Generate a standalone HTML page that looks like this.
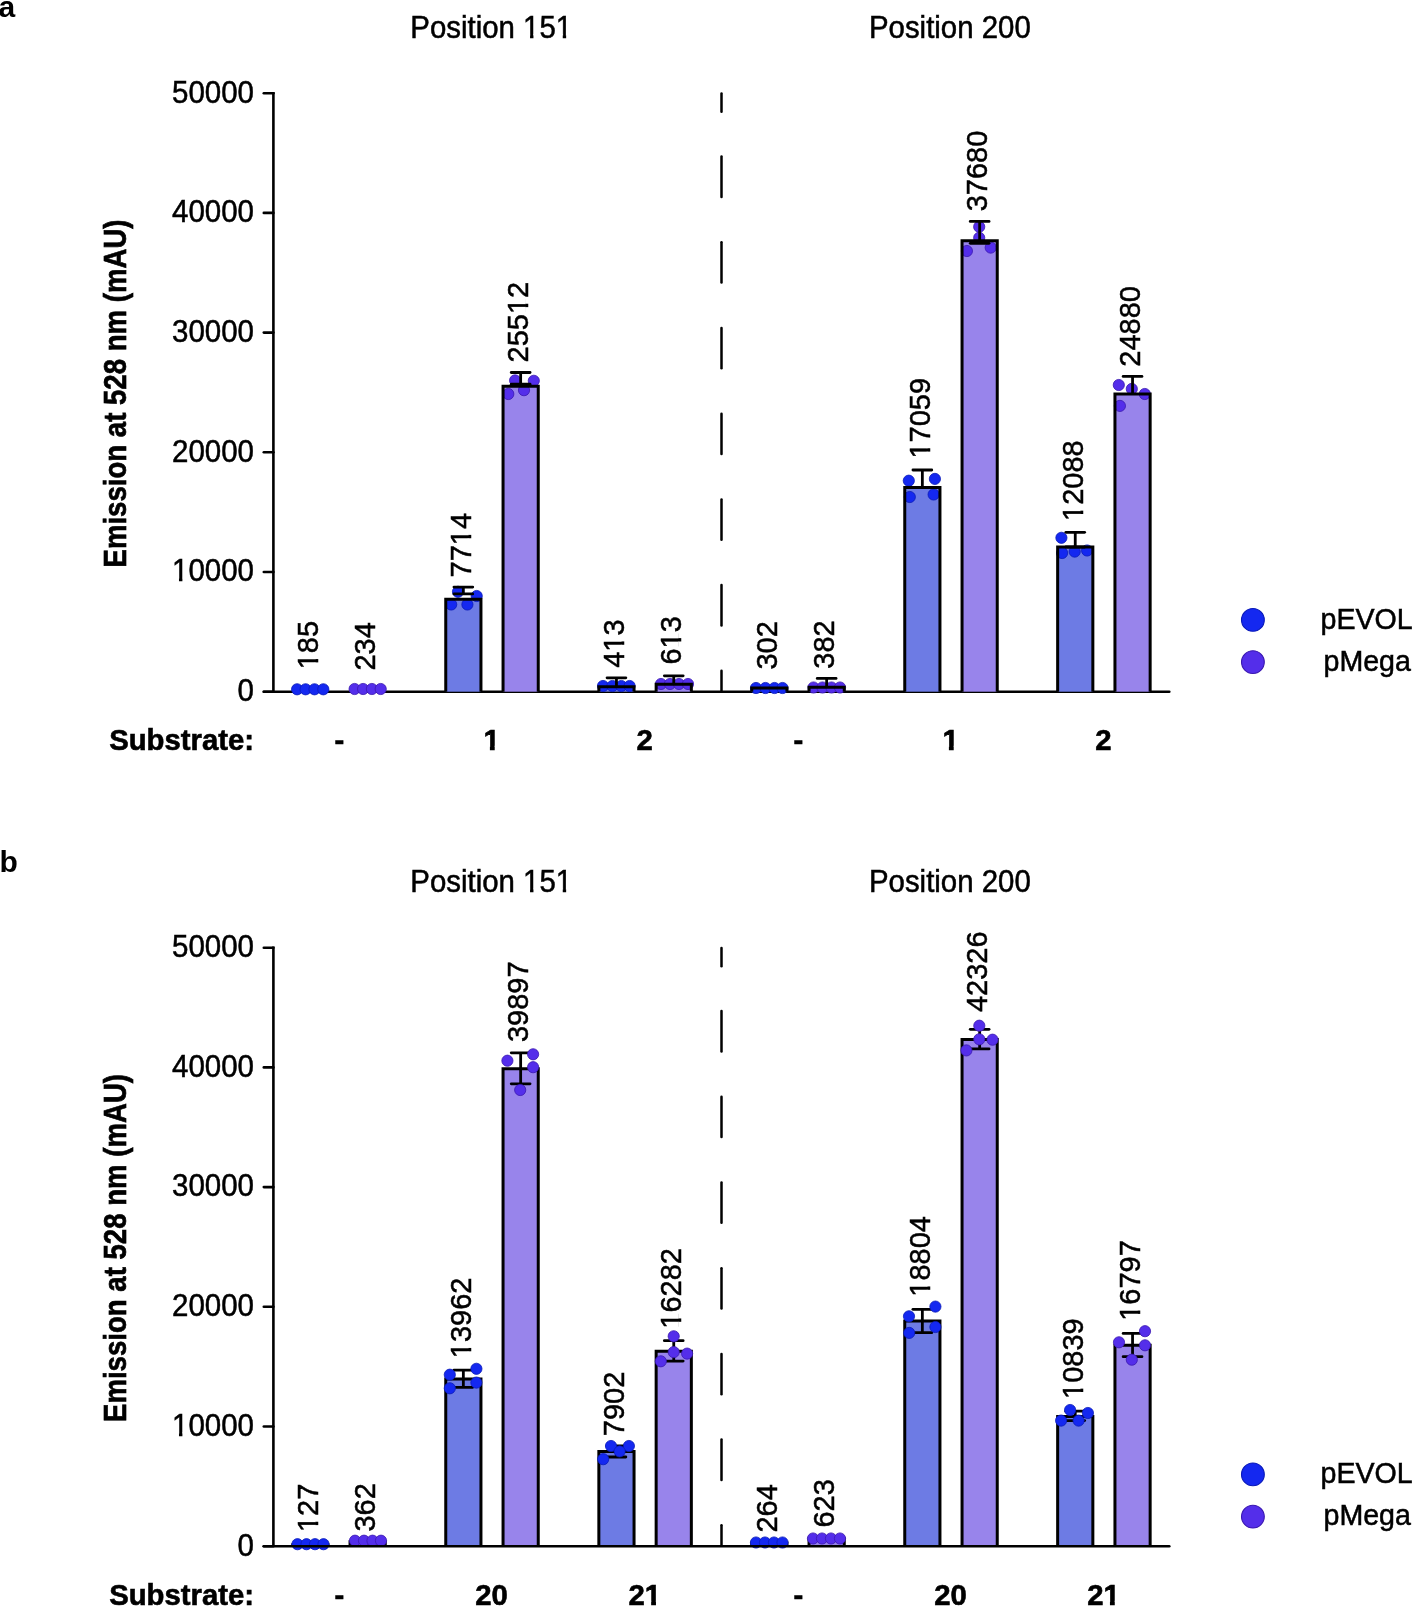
<!DOCTYPE html><html><head><meta charset="utf-8"><style>html,body{margin:0;padding:0;background:#fff;overflow:hidden;}svg{display:block;will-change:transform;}text{font-family:"Liberation Sans", sans-serif;}</style></head><body>
<svg width="1412" height="1606" viewBox="0 0 1412 1606">
<rect width="1412" height="1606" fill="#fff"/>
<text x="-1.5" y="17.3" font-size="30" font-weight="bold">a</text>
<text x="-0.5" y="871.5" font-size="30" font-weight="bold">b</text>
<g transform="translate(491.20,37.50) scale(1.0,1.04)"><text font-size="29.4" text-anchor="middle" stroke="#000" stroke-width="0.5">Position 151</text><rect x="32.43" y="-3.23" width="6.42" height="4.81" fill="#fff"/><rect x="42.25" y="-3.23" width="5.96" height="4.81" fill="#fff"/><rect x="65.13" y="-3.23" width="6.42" height="4.81" fill="#fff"/><rect x="74.95" y="-3.23" width="8.27" height="4.81" fill="#fff"/></g>
<g transform="translate(949.85,37.50) scale(1.0,1.04)"><text font-size="29.4" text-anchor="middle" stroke="#000" stroke-width="0.5">Position 200</text></g>
<g transform="translate(125.70,393.50) rotate(-90) scale(1.0,1.15)"><text font-size="27.6" text-anchor="middle" font-weight="bold" stroke="#000" stroke-width="0.6">Emission at 528 nm (mAU)</text></g>
<line x1="263.8" y1="691.70" x2="273.4" y2="691.70" stroke="#000" stroke-width="2.6" stroke-linecap="round"/>
<g transform="translate(254.00,701.00) scale(1.0,1.04)"><text font-size="29.5" text-anchor="end" stroke="#000" stroke-width="0.5">0</text></g>
<line x1="263.8" y1="572.00" x2="273.4" y2="572.00" stroke="#000" stroke-width="2.6" stroke-linecap="round"/>
<g transform="translate(254.00,581.30) scale(1.0,1.04)"><text font-size="29.5" text-anchor="end" stroke="#000" stroke-width="0.5">10000</text><rect x="-81.46" y="-3.24" width="6.44" height="4.83" fill="#fff"/><rect x="-71.60" y="-3.24" width="5.98" height="4.83" fill="#fff"/></g>
<line x1="263.8" y1="452.30" x2="273.4" y2="452.30" stroke="#000" stroke-width="2.6" stroke-linecap="round"/>
<g transform="translate(254.00,461.60) scale(1.0,1.04)"><text font-size="29.5" text-anchor="end" stroke="#000" stroke-width="0.5">20000</text></g>
<line x1="263.8" y1="332.60" x2="273.4" y2="332.60" stroke="#000" stroke-width="2.6" stroke-linecap="round"/>
<g transform="translate(254.00,341.90) scale(1.0,1.04)"><text font-size="29.5" text-anchor="end" stroke="#000" stroke-width="0.5">30000</text></g>
<line x1="263.8" y1="212.90" x2="273.4" y2="212.90" stroke="#000" stroke-width="2.6" stroke-linecap="round"/>
<g transform="translate(254.00,222.20) scale(1.0,1.04)"><text font-size="29.5" text-anchor="end" stroke="#000" stroke-width="0.5">40000</text></g>
<line x1="263.8" y1="93.20" x2="273.4" y2="93.20" stroke="#000" stroke-width="2.6" stroke-linecap="round"/>
<g transform="translate(254.00,102.50) scale(1.0,1.04)"><text font-size="29.5" text-anchor="end" stroke="#000" stroke-width="0.5">50000</text></g>
<line x1="273.4" y1="91.90" x2="273.4" y2="691.70" stroke="#000" stroke-width="2.6"/><line x1="263.8" y1="691.70" x2="1169.3" y2="691.70" stroke="#000" stroke-width="2.6" stroke-linecap="round"/>
<line x1="721.5" y1="93.50" x2="721.5" y2="111.70" stroke="#000" stroke-width="2.5" stroke-linecap="round"/>
<line x1="721.5" y1="156.60" x2="721.5" y2="196.90" stroke="#000" stroke-width="2.5" stroke-linecap="round"/>
<line x1="721.5" y1="242.30" x2="721.5" y2="282.60" stroke="#000" stroke-width="2.5" stroke-linecap="round"/>
<line x1="721.5" y1="328.00" x2="721.5" y2="368.30" stroke="#000" stroke-width="2.5" stroke-linecap="round"/>
<line x1="721.5" y1="413.70" x2="721.5" y2="454.00" stroke="#000" stroke-width="2.5" stroke-linecap="round"/>
<line x1="721.5" y1="499.40" x2="721.5" y2="539.70" stroke="#000" stroke-width="2.5" stroke-linecap="round"/>
<line x1="721.5" y1="585.10" x2="721.5" y2="625.40" stroke="#000" stroke-width="2.5" stroke-linecap="round"/>
<line x1="721.5" y1="670.80" x2="721.5" y2="690.60" stroke="#000" stroke-width="2.5" stroke-linecap="round"/>
<rect x="292.75" y="689.49" width="35.20" height="2.21" fill="#6d7be4"/><circle cx="297.10" cy="689.30" r="5.6" fill="#1428f0" stroke="#0a1ab8" stroke-width="0.8"/><circle cx="305.60" cy="689.30" r="5.6" fill="#1428f0" stroke="#0a1ab8" stroke-width="0.8"/><circle cx="314.50" cy="689.30" r="5.6" fill="#1428f0" stroke="#0a1ab8" stroke-width="0.8"/><circle cx="323.30" cy="689.30" r="5.6" fill="#1428f0" stroke="#0a1ab8" stroke-width="0.8"/>
<g transform="translate(318.05,669.30) rotate(-90) scale(1.0,1.03)"><text font-size="29.0" stroke="#000" stroke-width="0.5">185</text><rect x="0.57" y="-3.19" width="6.33" height="4.74" fill="#fff"/><rect x="10.25" y="-3.19" width="5.88" height="4.74" fill="#fff"/></g>
<rect x="350.05" y="688.90" width="35.20" height="2.80" fill="#9884eb"/><circle cx="354.60" cy="689.00" r="5.6" fill="#542eea" stroke="#3a18b0" stroke-width="0.8"/><circle cx="363.10" cy="689.00" r="5.6" fill="#542eea" stroke="#3a18b0" stroke-width="0.8"/><circle cx="371.90" cy="689.00" r="5.6" fill="#542eea" stroke="#3a18b0" stroke-width="0.8"/><circle cx="380.70" cy="689.00" r="5.6" fill="#542eea" stroke="#3a18b0" stroke-width="0.8"/>
<g transform="translate(375.35,670.50) rotate(-90) scale(1.0,1.03)"><text font-size="29.0" stroke="#000" stroke-width="0.5">234</text></g>
<rect x="445.75" y="599.36" width="35.20" height="92.34" fill="#6d7be4"/><circle cx="458.00" cy="591.80" r="5.6" fill="#1428f0" stroke="#0a1ab8" stroke-width="0.8"/><circle cx="476.70" cy="596.00" r="5.6" fill="#1428f0" stroke="#0a1ab8" stroke-width="0.8"/><circle cx="451.20" cy="604.50" r="5.6" fill="#1428f0" stroke="#0a1ab8" stroke-width="0.8"/><circle cx="467.40" cy="604.50" r="5.6" fill="#1428f0" stroke="#0a1ab8" stroke-width="0.8"/><path d="M445.75,691.70V599.36H480.95V691.70" fill="none" stroke="#000" stroke-width="3.0"/><line x1="463.35" y1="587.10" x2="463.35" y2="593.90" stroke="#000" stroke-width="2.8"/><line x1="453.95" y1="587.10" x2="472.75" y2="587.10" stroke="#000" stroke-width="2.8" stroke-linecap="round"/><line x1="453.95" y1="593.90" x2="472.75" y2="593.90" stroke="#000" stroke-width="2.8" stroke-linecap="round"/>
<g transform="translate(471.05,577.40) rotate(-90) scale(1.0,1.03)"><text font-size="29.0" stroke="#000" stroke-width="0.5">7714</text><rect x="32.82" y="-3.19" width="6.33" height="4.74" fill="#fff"/><rect x="42.51" y="-3.19" width="5.88" height="4.74" fill="#fff"/></g>
<rect x="503.05" y="386.32" width="35.20" height="305.38" fill="#9884eb"/><circle cx="515.10" cy="380.40" r="5.6" fill="#542eea" stroke="#3a18b0" stroke-width="0.8"/><circle cx="533.80" cy="380.80" r="5.6" fill="#542eea" stroke="#3a18b0" stroke-width="0.8"/><circle cx="508.30" cy="394.00" r="5.6" fill="#542eea" stroke="#3a18b0" stroke-width="0.8"/><circle cx="524.00" cy="390.20" r="5.6" fill="#542eea" stroke="#3a18b0" stroke-width="0.8"/><path d="M503.05,691.70V386.32H538.25V691.70" fill="none" stroke="#000" stroke-width="3.0"/><line x1="520.65" y1="372.50" x2="520.65" y2="384.20" stroke="#000" stroke-width="2.8"/><line x1="511.25" y1="372.50" x2="530.05" y2="372.50" stroke="#000" stroke-width="2.8" stroke-linecap="round"/><line x1="511.25" y1="384.20" x2="530.05" y2="384.20" stroke="#000" stroke-width="2.8" stroke-linecap="round"/>
<g transform="translate(528.35,362.40) rotate(-90) scale(1.0,1.03)"><text font-size="29.0" stroke="#000" stroke-width="0.5">25512</text><rect x="48.95" y="-3.19" width="6.33" height="4.74" fill="#fff"/><rect x="58.64" y="-3.19" width="5.88" height="4.74" fill="#fff"/></g>
<rect x="598.85" y="686.76" width="35.20" height="4.94" fill="#6d7be4"/><circle cx="603.00" cy="686.00" r="5.6" fill="#1428f0" stroke="#0a1ab8" stroke-width="0.8"/><circle cx="612.40" cy="686.00" r="5.6" fill="#1428f0" stroke="#0a1ab8" stroke-width="0.8"/><circle cx="621.30" cy="686.00" r="5.6" fill="#1428f0" stroke="#0a1ab8" stroke-width="0.8"/><circle cx="629.60" cy="686.00" r="5.6" fill="#1428f0" stroke="#0a1ab8" stroke-width="0.8"/><path d="M598.85,691.70V686.76H634.05V691.70" fill="none" stroke="#000" stroke-width="3.0"/><line x1="616.45" y1="677.80" x2="616.45" y2="686.76" stroke="#000" stroke-width="2.8"/><line x1="607.05" y1="677.80" x2="625.85" y2="677.80" stroke="#000" stroke-width="2.8" stroke-linecap="round"/>
<g transform="translate(624.15,667.80) rotate(-90) scale(1.0,1.03)"><text font-size="29.0" stroke="#000" stroke-width="0.5">413</text><rect x="16.69" y="-3.19" width="6.33" height="4.74" fill="#fff"/><rect x="26.38" y="-3.19" width="5.88" height="4.74" fill="#fff"/></g>
<rect x="656.15" y="684.36" width="35.20" height="7.34" fill="#9884eb"/><circle cx="661.00" cy="684.00" r="5.6" fill="#542eea" stroke="#3a18b0" stroke-width="0.8"/><circle cx="670.00" cy="684.00" r="5.6" fill="#542eea" stroke="#3a18b0" stroke-width="0.8"/><circle cx="679.00" cy="684.00" r="5.6" fill="#542eea" stroke="#3a18b0" stroke-width="0.8"/><circle cx="688.00" cy="684.00" r="5.6" fill="#542eea" stroke="#3a18b0" stroke-width="0.8"/><path d="M656.15,691.70V684.36H691.35V691.70" fill="none" stroke="#000" stroke-width="3.0"/><line x1="673.75" y1="675.80" x2="673.75" y2="684.36" stroke="#000" stroke-width="2.8"/><line x1="664.35" y1="675.80" x2="683.15" y2="675.80" stroke="#000" stroke-width="2.8" stroke-linecap="round"/>
<g transform="translate(681.45,664.50) rotate(-90) scale(1.0,1.03)"><text font-size="29.0" stroke="#000" stroke-width="0.5">613</text><rect x="16.69" y="-3.19" width="6.33" height="4.74" fill="#fff"/><rect x="26.38" y="-3.19" width="5.88" height="4.74" fill="#fff"/></g>
<rect x="751.75" y="688.09" width="35.20" height="3.61" fill="#6d7be4"/><circle cx="756.00" cy="688.00" r="5.6" fill="#1428f0" stroke="#0a1ab8" stroke-width="0.8"/><circle cx="765.50" cy="688.00" r="5.6" fill="#1428f0" stroke="#0a1ab8" stroke-width="0.8"/><circle cx="774.50" cy="688.00" r="5.6" fill="#1428f0" stroke="#0a1ab8" stroke-width="0.8"/><circle cx="782.50" cy="688.00" r="5.6" fill="#1428f0" stroke="#0a1ab8" stroke-width="0.8"/><path d="M751.75,691.70V688.09H786.95V691.70" fill="none" stroke="#000" stroke-width="3.0"/>
<g transform="translate(777.05,669.50) rotate(-90) scale(1.0,1.03)"><text font-size="29.0" stroke="#000" stroke-width="0.5">302</text></g>
<rect x="809.05" y="687.13" width="35.20" height="4.57" fill="#9884eb"/><circle cx="813.50" cy="687.50" r="5.6" fill="#542eea" stroke="#3a18b0" stroke-width="0.8"/><circle cx="822.50" cy="687.50" r="5.6" fill="#542eea" stroke="#3a18b0" stroke-width="0.8"/><circle cx="831.50" cy="687.50" r="5.6" fill="#542eea" stroke="#3a18b0" stroke-width="0.8"/><circle cx="840.00" cy="687.50" r="5.6" fill="#542eea" stroke="#3a18b0" stroke-width="0.8"/><path d="M809.05,691.70V687.13H844.25V691.70" fill="none" stroke="#000" stroke-width="3.0"/><line x1="826.65" y1="678.40" x2="826.65" y2="687.13" stroke="#000" stroke-width="2.8"/><line x1="817.25" y1="678.40" x2="836.05" y2="678.40" stroke="#000" stroke-width="2.8" stroke-linecap="round"/>
<g transform="translate(834.35,668.70) rotate(-90) scale(1.0,1.03)"><text font-size="29.0" stroke="#000" stroke-width="0.5">382</text></g>
<rect x="904.75" y="487.50" width="35.20" height="204.20" fill="#6d7be4"/><circle cx="908.80" cy="480.70" r="5.6" fill="#1428f0" stroke="#0a1ab8" stroke-width="0.8"/><circle cx="934.90" cy="478.90" r="5.6" fill="#1428f0" stroke="#0a1ab8" stroke-width="0.8"/><circle cx="909.80" cy="497.00" r="5.6" fill="#1428f0" stroke="#0a1ab8" stroke-width="0.8"/><circle cx="933.60" cy="494.50" r="5.6" fill="#1428f0" stroke="#0a1ab8" stroke-width="0.8"/><path d="M904.75,691.70V487.50H939.95V691.70" fill="none" stroke="#000" stroke-width="3.0"/><line x1="922.35" y1="470.00" x2="922.35" y2="487.50" stroke="#000" stroke-width="2.8"/><line x1="912.95" y1="470.00" x2="931.75" y2="470.00" stroke="#000" stroke-width="2.8" stroke-linecap="round"/>
<g transform="translate(930.05,458.50) rotate(-90) scale(1.0,1.03)"><text font-size="29.0" stroke="#000" stroke-width="0.5">17059</text><rect x="0.57" y="-3.19" width="6.33" height="4.74" fill="#fff"/><rect x="10.25" y="-3.19" width="5.88" height="4.74" fill="#fff"/></g>
<rect x="962.05" y="240.67" width="35.20" height="451.03" fill="#9884eb"/><circle cx="979.20" cy="226.80" r="5.6" fill="#542eea" stroke="#3a18b0" stroke-width="0.8"/><circle cx="979.20" cy="237.80" r="5.6" fill="#542eea" stroke="#3a18b0" stroke-width="0.8"/><circle cx="966.90" cy="251.00" r="5.6" fill="#542eea" stroke="#3a18b0" stroke-width="0.8"/><circle cx="990.70" cy="247.60" r="5.6" fill="#542eea" stroke="#3a18b0" stroke-width="0.8"/><path d="M962.05,691.70V240.67H997.25V691.70" fill="none" stroke="#000" stroke-width="3.0"/><line x1="979.65" y1="221.40" x2="979.65" y2="243.30" stroke="#000" stroke-width="2.8"/><line x1="970.25" y1="221.40" x2="989.05" y2="221.40" stroke="#000" stroke-width="2.8" stroke-linecap="round"/><line x1="970.25" y1="243.30" x2="989.05" y2="243.30" stroke="#000" stroke-width="2.8" stroke-linecap="round"/>
<g transform="translate(987.35,211.30) rotate(-90) scale(1.0,1.03)"><text font-size="29.0" stroke="#000" stroke-width="0.5">37680</text></g>
<rect x="1057.65" y="547.01" width="35.20" height="144.69" fill="#6d7be4"/><circle cx="1061.40" cy="537.80" r="5.6" fill="#1428f0" stroke="#0a1ab8" stroke-width="0.8"/><circle cx="1062.10" cy="553.00" r="5.6" fill="#1428f0" stroke="#0a1ab8" stroke-width="0.8"/><circle cx="1074.70" cy="551.60" r="5.6" fill="#1428f0" stroke="#0a1ab8" stroke-width="0.8"/><circle cx="1087.10" cy="550.50" r="5.6" fill="#1428f0" stroke="#0a1ab8" stroke-width="0.8"/><path d="M1057.65,691.70V547.01H1092.85V691.70" fill="none" stroke="#000" stroke-width="3.0"/><line x1="1075.25" y1="532.30" x2="1075.25" y2="547.00" stroke="#000" stroke-width="2.8"/><line x1="1065.85" y1="532.30" x2="1084.65" y2="532.30" stroke="#000" stroke-width="2.8" stroke-linecap="round"/><line x1="1065.85" y1="547.00" x2="1084.65" y2="547.00" stroke="#000" stroke-width="2.8" stroke-linecap="round"/>
<g transform="translate(1082.95,520.90) rotate(-90) scale(1.0,1.03)"><text font-size="29.0" stroke="#000" stroke-width="0.5">12088</text><rect x="0.57" y="-3.19" width="6.33" height="4.74" fill="#fff"/><rect x="10.25" y="-3.19" width="5.88" height="4.74" fill="#fff"/></g>
<rect x="1114.95" y="393.89" width="35.20" height="297.81" fill="#9884eb"/><circle cx="1118.80" cy="385.00" r="5.6" fill="#542eea" stroke="#3a18b0" stroke-width="0.8"/><circle cx="1131.80" cy="388.90" r="5.6" fill="#542eea" stroke="#3a18b0" stroke-width="0.8"/><circle cx="1144.80" cy="394.00" r="5.6" fill="#542eea" stroke="#3a18b0" stroke-width="0.8"/><circle cx="1119.90" cy="405.90" r="5.6" fill="#542eea" stroke="#3a18b0" stroke-width="0.8"/><path d="M1114.95,691.70V393.89H1150.15V691.70" fill="none" stroke="#000" stroke-width="3.0"/><line x1="1132.55" y1="376.40" x2="1132.55" y2="393.89" stroke="#000" stroke-width="2.8"/><line x1="1123.15" y1="376.40" x2="1141.95" y2="376.40" stroke="#000" stroke-width="2.8" stroke-linecap="round"/>
<g transform="translate(1140.25,366.70) rotate(-90) scale(1.0,1.03)"><text font-size="29.0" stroke="#000" stroke-width="0.5">24880</text></g>
<g transform="translate(254.00,750.00) scale(1.0,1.03)"><text font-size="29.3" text-anchor="end" font-weight="bold" stroke="#000" stroke-width="0.6">Substrate:</text></g>
<g transform="translate(339.30,750.00) scale(1.0,1.03)"><text font-size="29.3" text-anchor="middle" font-weight="bold" stroke="#000" stroke-width="0.6">-</text></g>
<g transform="translate(491.60,750.00) scale(1.0,1.03)"><text font-size="29.3" text-anchor="middle" font-weight="bold" stroke="#000" stroke-width="0.6">1</text><rect x="-7.72" y="-4.08" width="6.01" height="5.65" fill="#fff"/><rect x="3.11" y="-4.08" width="7.34" height="5.65" fill="#fff"/></g>
<g transform="translate(644.70,750.00) scale(1.0,1.03)"><text font-size="29.3" text-anchor="middle" font-weight="bold" stroke="#000" stroke-width="0.6">2</text></g>
<g transform="translate(798.30,750.00) scale(1.0,1.03)"><text font-size="29.3" text-anchor="middle" font-weight="bold" stroke="#000" stroke-width="0.6">-</text></g>
<g transform="translate(950.60,750.00) scale(1.0,1.03)"><text font-size="29.3" text-anchor="middle" font-weight="bold" stroke="#000" stroke-width="0.6">1</text><rect x="-7.72" y="-4.08" width="6.01" height="5.65" fill="#fff"/><rect x="3.11" y="-4.08" width="7.34" height="5.65" fill="#fff"/></g>
<g transform="translate(1103.50,750.00) scale(1.0,1.03)"><text font-size="29.3" text-anchor="middle" font-weight="bold" stroke="#000" stroke-width="0.6">2</text></g>
<circle cx="1252.9" cy="619.9" r="11.4" fill="#1428f0" stroke="#0a1ab8" stroke-width="1.1"/>
<circle cx="1252.9" cy="662.1" r="11.4" fill="#542eea" stroke="#3a18b0" stroke-width="1.1"/>
<g transform="translate(1366.60,628.60) scale(1.0,1.06)"><text font-size="28.6" text-anchor="middle" stroke="#000" stroke-width="0.5">pEVOL</text></g>
<g transform="translate(1367.20,670.50) scale(1.0,1.06)"><text font-size="28.6" text-anchor="middle" stroke="#000" stroke-width="0.5">pMega</text></g>
<g transform="translate(491.20,892.00) scale(1.0,1.04)"><text font-size="29.4" text-anchor="middle" stroke="#000" stroke-width="0.5">Position 151</text><rect x="32.43" y="-3.23" width="6.42" height="4.81" fill="#fff"/><rect x="42.25" y="-3.23" width="5.96" height="4.81" fill="#fff"/><rect x="65.13" y="-3.23" width="6.42" height="4.81" fill="#fff"/><rect x="74.95" y="-3.23" width="8.27" height="4.81" fill="#fff"/></g>
<g transform="translate(949.85,892.00) scale(1.0,1.04)"><text font-size="29.4" text-anchor="middle" stroke="#000" stroke-width="0.5">Position 200</text></g>
<g transform="translate(125.70,1248.00) rotate(-90) scale(1.0,1.15)"><text font-size="27.6" text-anchor="middle" font-weight="bold" stroke="#000" stroke-width="0.6">Emission at 528 nm (mAU)</text></g>
<line x1="263.8" y1="1546.20" x2="273.4" y2="1546.20" stroke="#000" stroke-width="2.6" stroke-linecap="round"/>
<g transform="translate(254.00,1555.50) scale(1.0,1.04)"><text font-size="29.5" text-anchor="end" stroke="#000" stroke-width="0.5">0</text></g>
<line x1="263.8" y1="1426.50" x2="273.4" y2="1426.50" stroke="#000" stroke-width="2.6" stroke-linecap="round"/>
<g transform="translate(254.00,1435.80) scale(1.0,1.04)"><text font-size="29.5" text-anchor="end" stroke="#000" stroke-width="0.5">10000</text><rect x="-81.46" y="-3.24" width="6.44" height="4.83" fill="#fff"/><rect x="-71.60" y="-3.24" width="5.98" height="4.83" fill="#fff"/></g>
<line x1="263.8" y1="1306.80" x2="273.4" y2="1306.80" stroke="#000" stroke-width="2.6" stroke-linecap="round"/>
<g transform="translate(254.00,1316.10) scale(1.0,1.04)"><text font-size="29.5" text-anchor="end" stroke="#000" stroke-width="0.5">20000</text></g>
<line x1="263.8" y1="1187.10" x2="273.4" y2="1187.10" stroke="#000" stroke-width="2.6" stroke-linecap="round"/>
<g transform="translate(254.00,1196.40) scale(1.0,1.04)"><text font-size="29.5" text-anchor="end" stroke="#000" stroke-width="0.5">30000</text></g>
<line x1="263.8" y1="1067.40" x2="273.4" y2="1067.40" stroke="#000" stroke-width="2.6" stroke-linecap="round"/>
<g transform="translate(254.00,1076.70) scale(1.0,1.04)"><text font-size="29.5" text-anchor="end" stroke="#000" stroke-width="0.5">40000</text></g>
<line x1="263.8" y1="947.70" x2="273.4" y2="947.70" stroke="#000" stroke-width="2.6" stroke-linecap="round"/>
<g transform="translate(254.00,957.00) scale(1.0,1.04)"><text font-size="29.5" text-anchor="end" stroke="#000" stroke-width="0.5">50000</text></g>
<line x1="721.5" y1="948.00" x2="721.5" y2="966.20" stroke="#000" stroke-width="2.5" stroke-linecap="round"/>
<line x1="721.5" y1="1011.10" x2="721.5" y2="1051.40" stroke="#000" stroke-width="2.5" stroke-linecap="round"/>
<line x1="721.5" y1="1096.80" x2="721.5" y2="1137.10" stroke="#000" stroke-width="2.5" stroke-linecap="round"/>
<line x1="721.5" y1="1182.50" x2="721.5" y2="1222.80" stroke="#000" stroke-width="2.5" stroke-linecap="round"/>
<line x1="721.5" y1="1268.20" x2="721.5" y2="1308.50" stroke="#000" stroke-width="2.5" stroke-linecap="round"/>
<line x1="721.5" y1="1353.90" x2="721.5" y2="1394.20" stroke="#000" stroke-width="2.5" stroke-linecap="round"/>
<line x1="721.5" y1="1439.60" x2="721.5" y2="1479.90" stroke="#000" stroke-width="2.5" stroke-linecap="round"/>
<line x1="721.5" y1="1525.30" x2="721.5" y2="1545.10" stroke="#000" stroke-width="2.5" stroke-linecap="round"/>
<rect x="292.75" y="1544.68" width="35.20" height="1.52" fill="#6d7be4"/><path d="M292.75,1546.20V1544.68H327.95V1546.20" fill="none" stroke="#000" stroke-width="3.0"/><circle cx="297.50" cy="1544.20" r="5.6" fill="#1428f0" stroke="#0a1ab8" stroke-width="0.8"/><circle cx="306.50" cy="1544.20" r="5.6" fill="#1428f0" stroke="#0a1ab8" stroke-width="0.8"/><circle cx="315.00" cy="1544.20" r="5.6" fill="#1428f0" stroke="#0a1ab8" stroke-width="0.8"/><circle cx="323.50" cy="1544.20" r="5.6" fill="#1428f0" stroke="#0a1ab8" stroke-width="0.8"/>
<g transform="translate(318.05,1532.00) rotate(-90) scale(1.0,1.03)"><text font-size="29.0" stroke="#000" stroke-width="0.5">127</text><rect x="0.57" y="-3.19" width="6.33" height="4.74" fill="#fff"/><rect x="10.25" y="-3.19" width="5.88" height="4.74" fill="#fff"/></g>
<rect x="350.05" y="1541.87" width="35.20" height="4.33" fill="#9884eb"/><path d="M350.05,1546.20V1541.87H385.25V1546.20" fill="none" stroke="#000" stroke-width="3.0"/><circle cx="355.00" cy="1540.70" r="5.6" fill="#542eea" stroke="#3a18b0" stroke-width="0.8"/><circle cx="364.00" cy="1540.70" r="5.6" fill="#542eea" stroke="#3a18b0" stroke-width="0.8"/><circle cx="372.50" cy="1540.70" r="5.6" fill="#542eea" stroke="#3a18b0" stroke-width="0.8"/><circle cx="381.00" cy="1540.70" r="5.6" fill="#542eea" stroke="#3a18b0" stroke-width="0.8"/>
<g transform="translate(375.35,1531.60) rotate(-90) scale(1.0,1.03)"><text font-size="29.0" stroke="#000" stroke-width="0.5">362</text></g>
<rect x="445.75" y="1379.07" width="35.20" height="167.13" fill="#6d7be4"/><path d="M445.75,1546.20V1379.07H480.95V1546.20" fill="none" stroke="#000" stroke-width="3.0"/><line x1="463.35" y1="1370.20" x2="463.35" y2="1387.30" stroke="#000" stroke-width="2.8"/><line x1="453.95" y1="1370.20" x2="472.75" y2="1370.20" stroke="#000" stroke-width="2.8" stroke-linecap="round"/><line x1="453.95" y1="1387.30" x2="472.75" y2="1387.30" stroke="#000" stroke-width="2.8" stroke-linecap="round"/><circle cx="449.80" cy="1374.70" r="5.6" fill="#1428f0" stroke="#0a1ab8" stroke-width="0.8"/><circle cx="476.40" cy="1368.80" r="5.6" fill="#1428f0" stroke="#0a1ab8" stroke-width="0.8"/><circle cx="449.80" cy="1388.30" r="5.6" fill="#1428f0" stroke="#0a1ab8" stroke-width="0.8"/><circle cx="476.40" cy="1382.60" r="5.6" fill="#1428f0" stroke="#0a1ab8" stroke-width="0.8"/>
<g transform="translate(471.05,1358.20) rotate(-90) scale(1.0,1.03)"><text font-size="29.0" stroke="#000" stroke-width="0.5">13962</text><rect x="0.57" y="-3.19" width="6.33" height="4.74" fill="#fff"/><rect x="10.25" y="-3.19" width="5.88" height="4.74" fill="#fff"/></g>
<rect x="503.05" y="1068.63" width="35.20" height="477.57" fill="#9884eb"/><path d="M503.05,1546.20V1068.63H538.25V1546.20" fill="none" stroke="#000" stroke-width="3.0"/><line x1="520.65" y1="1052.80" x2="520.65" y2="1083.80" stroke="#000" stroke-width="2.8"/><line x1="511.25" y1="1052.80" x2="530.05" y2="1052.80" stroke="#000" stroke-width="2.8" stroke-linecap="round"/><line x1="511.25" y1="1083.80" x2="530.05" y2="1083.80" stroke="#000" stroke-width="2.8" stroke-linecap="round"/><circle cx="507.40" cy="1060.70" r="5.6" fill="#542eea" stroke="#3a18b0" stroke-width="0.8"/><circle cx="533.10" cy="1054.30" r="5.6" fill="#542eea" stroke="#3a18b0" stroke-width="0.8"/><circle cx="533.10" cy="1067.20" r="5.6" fill="#542eea" stroke="#3a18b0" stroke-width="0.8"/><circle cx="520.20" cy="1090.00" r="5.6" fill="#542eea" stroke="#3a18b0" stroke-width="0.8"/>
<g transform="translate(528.35,1042.00) rotate(-90) scale(1.0,1.03)"><text font-size="29.0" stroke="#000" stroke-width="0.5">39897</text></g>
<rect x="598.85" y="1451.61" width="35.20" height="94.59" fill="#6d7be4"/><path d="M598.85,1546.20V1451.61H634.05V1546.20" fill="none" stroke="#000" stroke-width="3.0"/><line x1="616.45" y1="1446.00" x2="616.45" y2="1457.00" stroke="#000" stroke-width="2.8"/><line x1="607.05" y1="1446.00" x2="625.85" y2="1446.00" stroke="#000" stroke-width="2.8" stroke-linecap="round"/><line x1="607.05" y1="1457.00" x2="625.85" y2="1457.00" stroke="#000" stroke-width="2.8" stroke-linecap="round"/><circle cx="611.00" cy="1446.00" r="5.6" fill="#1428f0" stroke="#0a1ab8" stroke-width="0.8"/><circle cx="628.90" cy="1446.00" r="5.6" fill="#1428f0" stroke="#0a1ab8" stroke-width="0.8"/><circle cx="619.60" cy="1451.40" r="5.6" fill="#1428f0" stroke="#0a1ab8" stroke-width="0.8"/><circle cx="603.20" cy="1459.20" r="5.6" fill="#1428f0" stroke="#0a1ab8" stroke-width="0.8"/>
<g transform="translate(624.15,1436.20) rotate(-90) scale(1.0,1.03)"><text font-size="29.0" stroke="#000" stroke-width="0.5">7902</text></g>
<rect x="656.15" y="1351.30" width="35.20" height="194.90" fill="#9884eb"/><path d="M656.15,1546.20V1351.30H691.35V1546.20" fill="none" stroke="#000" stroke-width="3.0"/><line x1="673.75" y1="1340.70" x2="673.75" y2="1361.10" stroke="#000" stroke-width="2.8"/><line x1="664.35" y1="1340.70" x2="683.15" y2="1340.70" stroke="#000" stroke-width="2.8" stroke-linecap="round"/><line x1="664.35" y1="1361.10" x2="683.15" y2="1361.10" stroke="#000" stroke-width="2.8" stroke-linecap="round"/><circle cx="673.70" cy="1336.30" r="5.6" fill="#542eea" stroke="#3a18b0" stroke-width="0.8"/><circle cx="673.70" cy="1352.10" r="5.6" fill="#542eea" stroke="#3a18b0" stroke-width="0.8"/><circle cx="687.10" cy="1353.60" r="5.6" fill="#542eea" stroke="#3a18b0" stroke-width="0.8"/><circle cx="660.80" cy="1361.30" r="5.6" fill="#542eea" stroke="#3a18b0" stroke-width="0.8"/>
<g transform="translate(681.45,1328.70) rotate(-90) scale(1.0,1.03)"><text font-size="29.0" stroke="#000" stroke-width="0.5">16282</text><rect x="0.57" y="-3.19" width="6.33" height="4.74" fill="#fff"/><rect x="10.25" y="-3.19" width="5.88" height="4.74" fill="#fff"/></g>
<rect x="751.75" y="1543.04" width="35.20" height="3.16" fill="#6d7be4"/><path d="M751.75,1546.20V1543.04H786.95V1546.20" fill="none" stroke="#000" stroke-width="3.0"/><circle cx="756.00" cy="1542.50" r="5.6" fill="#1428f0" stroke="#0a1ab8" stroke-width="0.8"/><circle cx="765.00" cy="1542.50" r="5.6" fill="#1428f0" stroke="#0a1ab8" stroke-width="0.8"/><circle cx="774.00" cy="1542.50" r="5.6" fill="#1428f0" stroke="#0a1ab8" stroke-width="0.8"/><circle cx="782.50" cy="1542.50" r="5.6" fill="#1428f0" stroke="#0a1ab8" stroke-width="0.8"/>
<g transform="translate(777.05,1532.60) rotate(-90) scale(1.0,1.03)"><text font-size="29.0" stroke="#000" stroke-width="0.5">264</text></g>
<rect x="809.05" y="1538.74" width="35.20" height="7.46" fill="#9884eb"/><path d="M809.05,1546.20V1538.74H844.25V1546.20" fill="none" stroke="#000" stroke-width="3.0"/><circle cx="813.00" cy="1538.50" r="5.6" fill="#542eea" stroke="#3a18b0" stroke-width="0.8"/><circle cx="822.00" cy="1538.50" r="5.6" fill="#542eea" stroke="#3a18b0" stroke-width="0.8"/><circle cx="831.00" cy="1538.50" r="5.6" fill="#542eea" stroke="#3a18b0" stroke-width="0.8"/><circle cx="840.00" cy="1538.50" r="5.6" fill="#542eea" stroke="#3a18b0" stroke-width="0.8"/>
<g transform="translate(834.35,1527.50) rotate(-90) scale(1.0,1.03)"><text font-size="29.0" stroke="#000" stroke-width="0.5">623</text></g>
<rect x="904.75" y="1321.12" width="35.20" height="225.08" fill="#6d7be4"/><path d="M904.75,1546.20V1321.12H939.95V1546.20" fill="none" stroke="#000" stroke-width="3.0"/><line x1="922.35" y1="1309.30" x2="922.35" y2="1332.70" stroke="#000" stroke-width="2.8"/><line x1="912.95" y1="1309.30" x2="931.75" y2="1309.30" stroke="#000" stroke-width="2.8" stroke-linecap="round"/><line x1="912.95" y1="1332.70" x2="931.75" y2="1332.70" stroke="#000" stroke-width="2.8" stroke-linecap="round"/><circle cx="909.00" cy="1316.30" r="5.6" fill="#1428f0" stroke="#0a1ab8" stroke-width="0.8"/><circle cx="935.40" cy="1306.60" r="5.6" fill="#1428f0" stroke="#0a1ab8" stroke-width="0.8"/><circle cx="909.20" cy="1332.90" r="5.6" fill="#1428f0" stroke="#0a1ab8" stroke-width="0.8"/><circle cx="935.40" cy="1327.00" r="5.6" fill="#1428f0" stroke="#0a1ab8" stroke-width="0.8"/>
<g transform="translate(930.05,1296.70) rotate(-90) scale(1.0,1.03)"><text font-size="29.0" stroke="#000" stroke-width="0.5">18804</text><rect x="0.57" y="-3.19" width="6.33" height="4.74" fill="#fff"/><rect x="10.25" y="-3.19" width="5.88" height="4.74" fill="#fff"/></g>
<rect x="962.05" y="1039.56" width="35.20" height="506.64" fill="#9884eb"/><path d="M962.05,1546.20V1039.56H997.25V1546.20" fill="none" stroke="#000" stroke-width="3.0"/><line x1="979.65" y1="1029.30" x2="979.65" y2="1048.90" stroke="#000" stroke-width="2.8"/><line x1="970.25" y1="1029.30" x2="989.05" y2="1029.30" stroke="#000" stroke-width="2.8" stroke-linecap="round"/><line x1="970.25" y1="1048.90" x2="989.05" y2="1048.90" stroke="#000" stroke-width="2.8" stroke-linecap="round"/><circle cx="979.30" cy="1025.70" r="5.6" fill="#542eea" stroke="#3a18b0" stroke-width="0.8"/><circle cx="979.30" cy="1039.30" r="5.6" fill="#542eea" stroke="#3a18b0" stroke-width="0.8"/><circle cx="992.50" cy="1039.70" r="5.6" fill="#542eea" stroke="#3a18b0" stroke-width="0.8"/><circle cx="966.40" cy="1050.40" r="5.6" fill="#542eea" stroke="#3a18b0" stroke-width="0.8"/>
<g transform="translate(987.35,1012.00) rotate(-90) scale(1.0,1.03)"><text font-size="29.0" stroke="#000" stroke-width="0.5">42326</text></g>
<rect x="1057.65" y="1416.46" width="35.20" height="129.74" fill="#6d7be4"/><path d="M1057.65,1546.20V1416.46H1092.85V1546.20" fill="none" stroke="#000" stroke-width="3.0"/><line x1="1075.25" y1="1411.20" x2="1075.25" y2="1420.60" stroke="#000" stroke-width="2.8"/><line x1="1065.85" y1="1411.20" x2="1084.65" y2="1411.20" stroke="#000" stroke-width="2.8" stroke-linecap="round"/><line x1="1065.85" y1="1420.60" x2="1084.65" y2="1420.60" stroke="#000" stroke-width="2.8" stroke-linecap="round"/><circle cx="1070.10" cy="1410.00" r="5.6" fill="#1428f0" stroke="#0a1ab8" stroke-width="0.8"/><circle cx="1087.90" cy="1413.00" r="5.6" fill="#1428f0" stroke="#0a1ab8" stroke-width="0.8"/><circle cx="1061.10" cy="1420.60" r="5.6" fill="#1428f0" stroke="#0a1ab8" stroke-width="0.8"/><circle cx="1078.60" cy="1420.60" r="5.6" fill="#1428f0" stroke="#0a1ab8" stroke-width="0.8"/>
<g transform="translate(1082.95,1398.90) rotate(-90) scale(1.0,1.03)"><text font-size="29.0" stroke="#000" stroke-width="0.5">10839</text><rect x="0.57" y="-3.19" width="6.33" height="4.74" fill="#fff"/><rect x="10.25" y="-3.19" width="5.88" height="4.74" fill="#fff"/></g>
<rect x="1114.95" y="1345.14" width="35.20" height="201.06" fill="#9884eb"/><path d="M1114.95,1546.20V1345.14H1150.15V1546.20" fill="none" stroke="#000" stroke-width="3.0"/><line x1="1132.55" y1="1333.40" x2="1132.55" y2="1356.70" stroke="#000" stroke-width="2.8"/><line x1="1123.15" y1="1333.40" x2="1141.95" y2="1333.40" stroke="#000" stroke-width="2.8" stroke-linecap="round"/><line x1="1123.15" y1="1356.70" x2="1141.95" y2="1356.70" stroke="#000" stroke-width="2.8" stroke-linecap="round"/><circle cx="1119.00" cy="1342.30" r="5.6" fill="#542eea" stroke="#3a18b0" stroke-width="0.8"/><circle cx="1145.00" cy="1331.20" r="5.6" fill="#542eea" stroke="#3a18b0" stroke-width="0.8"/><circle cx="1145.00" cy="1345.30" r="5.6" fill="#542eea" stroke="#3a18b0" stroke-width="0.8"/><circle cx="1131.80" cy="1359.70" r="5.6" fill="#542eea" stroke="#3a18b0" stroke-width="0.8"/>
<g transform="translate(1140.25,1320.80) rotate(-90) scale(1.0,1.03)"><text font-size="29.0" stroke="#000" stroke-width="0.5">16797</text><rect x="0.57" y="-3.19" width="6.33" height="4.74" fill="#fff"/><rect x="10.25" y="-3.19" width="5.88" height="4.74" fill="#fff"/></g>
<line x1="273.4" y1="946.40" x2="273.4" y2="1546.20" stroke="#000" stroke-width="2.6"/><line x1="263.8" y1="1546.20" x2="1169.3" y2="1546.20" stroke="#000" stroke-width="2.6" stroke-linecap="round"/>
<g transform="translate(254.00,1605.01) scale(1.0,1.03)"><text font-size="29.3" text-anchor="end" font-weight="bold" stroke="#000" stroke-width="0.6">Substrate:</text></g>
<g transform="translate(339.30,1605.01) scale(1.0,1.03)"><text font-size="29.3" text-anchor="middle" font-weight="bold" stroke="#000" stroke-width="0.6">-</text></g>
<g transform="translate(491.60,1605.01) scale(1.0,1.03)"><text font-size="29.3" text-anchor="middle" font-weight="bold" stroke="#000" stroke-width="0.6">20</text></g>
<g transform="translate(644.70,1605.01) scale(1.0,1.03)"><text font-size="29.3" text-anchor="middle" font-weight="bold" stroke="#000" stroke-width="0.6">21</text><rect x="0.43" y="-4.08" width="6.01" height="5.65" fill="#fff"/><rect x="11.26" y="-4.08" width="7.34" height="5.65" fill="#fff"/></g>
<g transform="translate(798.30,1605.01) scale(1.0,1.03)"><text font-size="29.3" text-anchor="middle" font-weight="bold" stroke="#000" stroke-width="0.6">-</text></g>
<g transform="translate(950.60,1605.01) scale(1.0,1.03)"><text font-size="29.3" text-anchor="middle" font-weight="bold" stroke="#000" stroke-width="0.6">20</text></g>
<g transform="translate(1103.50,1605.01) scale(1.0,1.03)"><text font-size="29.3" text-anchor="middle" font-weight="bold" stroke="#000" stroke-width="0.6">21</text><rect x="0.43" y="-4.08" width="6.01" height="5.65" fill="#fff"/><rect x="11.26" y="-4.08" width="7.34" height="5.65" fill="#fff"/></g>
<circle cx="1252.9" cy="1474.4" r="11.4" fill="#1428f0" stroke="#0a1ab8" stroke-width="1.1"/>
<circle cx="1252.9" cy="1516.6" r="11.4" fill="#542eea" stroke="#3a18b0" stroke-width="1.1"/>
<g transform="translate(1366.60,1483.10) scale(1.0,1.06)"><text font-size="28.6" text-anchor="middle" stroke="#000" stroke-width="0.5">pEVOL</text></g>
<g transform="translate(1367.20,1525.00) scale(1.0,1.06)"><text font-size="28.6" text-anchor="middle" stroke="#000" stroke-width="0.5">pMega</text></g>
</svg></body></html>
